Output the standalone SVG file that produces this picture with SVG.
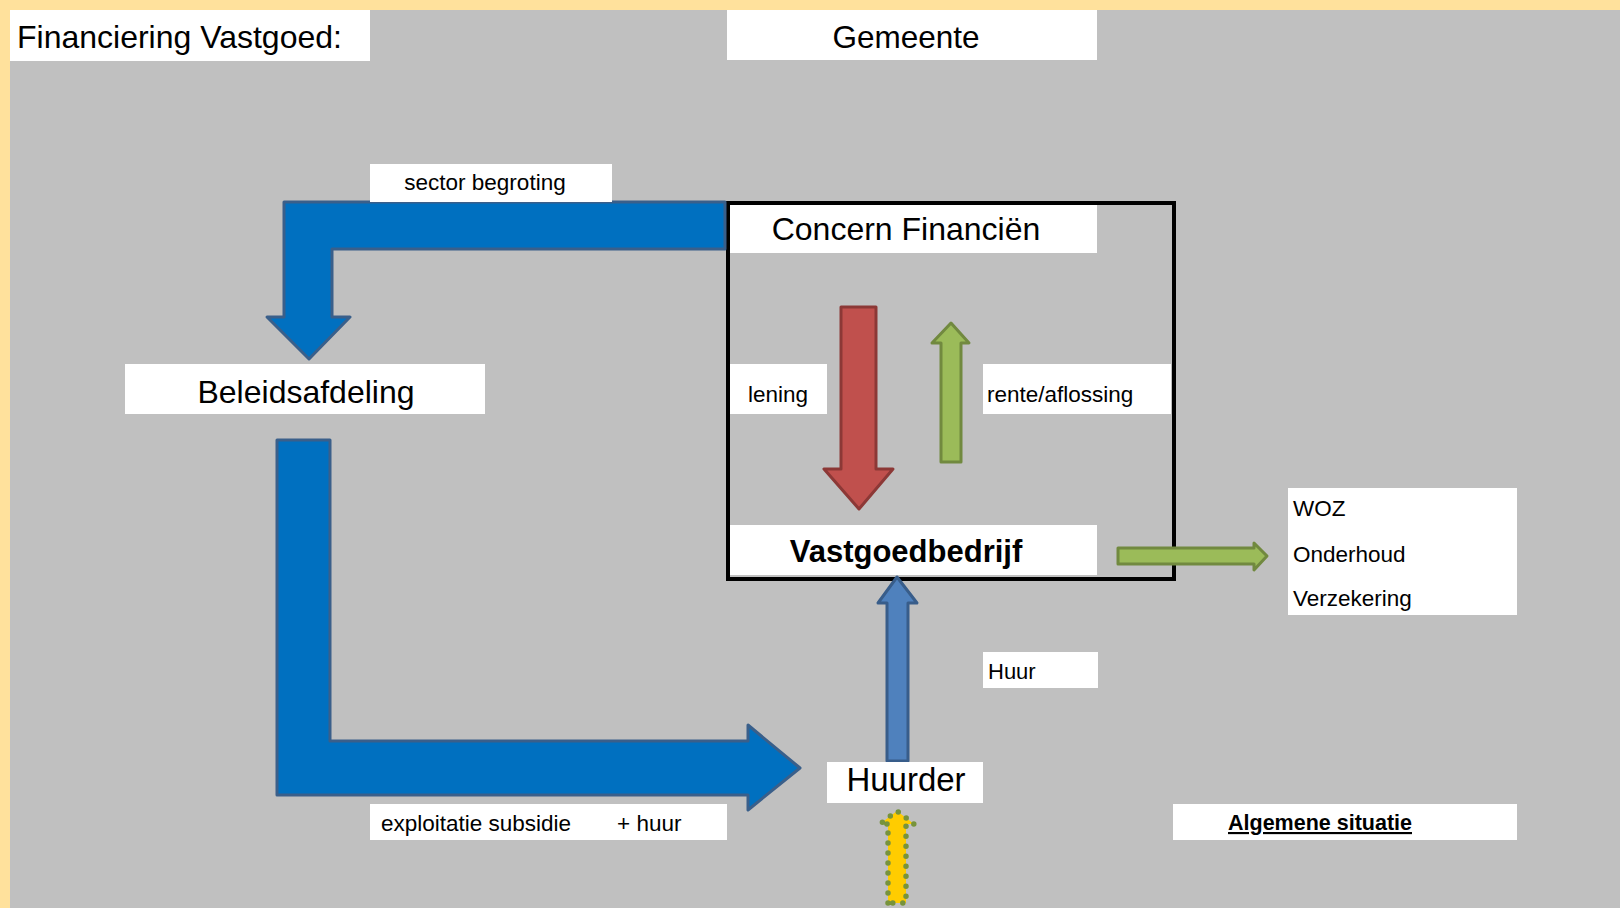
<svg xmlns="http://www.w3.org/2000/svg" width="1620" height="908" viewBox="0 0 1620 908">
<style>
  .lbl { fill: #ffffff; }
  .t { font-family: "Liberation Sans", Arial, sans-serif; fill: #000000; }
  .big { font-size: 32px; }
  .small { font-size: 22.5px; }
  .mid { text-anchor: middle; }
  .blue { fill: #0070C0; stroke: #3A5F8A; stroke-width: 3; stroke-linejoin: round; }
  .red { fill: #C0504D; stroke: #8C3836; stroke-width: 3; stroke-linejoin: round; }
  .green { fill: #9BBB59; stroke: #71893F; stroke-width: 3; stroke-linejoin: round; }
  .lblue { fill: #4F81BD; stroke: #385D8A; stroke-width: 3; stroke-linejoin: round; }
  .yellow { fill: #FFCC00; stroke: #77933C; stroke-width: 5.5; stroke-dasharray: 0 10; stroke-linecap: round; stroke-linejoin: round; }
</style>
<rect x="0" y="0" width="1620" height="908" fill="#FFE19C"/>
<rect x="10" y="10" width="1610" height="898" fill="#C0C0C0"/>

<g id="title">
  <rect class="lbl" x="10" y="10" width="360" height="51"/>
  <text class="t big" x="17" y="48">Financiering Vastgoed:</text>
</g>
<g id="gemeente">
  <rect class="lbl" x="727" y="10" width="370" height="50"/>
  <text class="t mid" x="906" y="48" font-size="31.5">Gemeente</text>
</g>

<g id="gemeente-frame">
  <rect x="728" y="203" width="446" height="376" fill="none" stroke="#000000" stroke-width="4"/>
</g>

<g id="connectors">
  <path id="arrow-sector" class="blue" d="M725,202 H284 V317 H267 L309,359 L350,317 H332 V249 H725 Z"/>
  <path id="arrow-exploitatie" class="blue" d="M277,440 H330 V741 H748 V725 L800,768 L748,810 V795 H277 Z"/>
  <path id="arrow-lening" class="red" d="M841,307 H876 V469 H893 L859,509 L824,469 H841 Z"/>
  <path id="arrow-rente" class="green" d="M941,462 V343 H932 L951,323 L969,343 H961 V462 Z"/>
  <path id="arrow-kosten" class="green" d="M1118,548 H1254 V543 L1267,556 L1254,570 V564 H1118 Z"/>
  <path id="arrow-huur" class="lblue" d="M887,761 V603 H878 L897,577 L917,603 H908 V761 Z"/>
  <path id="arrow-yellow" class="yellow" d="M888,903 V824 H880 L897,811 L914,824 H906 V903 Z"/>
</g>

<g id="sector-begroting">
  <rect class="lbl" x="370" y="164" width="242" height="38"/>
  <text class="t small mid" x="485" y="190">sector begroting</text>
</g>
<g id="concern-financien">
  <rect class="lbl" x="730" y="205" width="367" height="48"/>
  <text class="t big mid" x="906" y="240">Concern Financiën</text>
</g>
<g id="beleidsafdeling">
  <rect class="lbl" x="125" y="364" width="360" height="50"/>
  <text class="t big mid" x="306" y="403">Beleidsafdeling</text>
</g>
<g id="lening">
  <rect class="lbl" x="730" y="364" width="97" height="50"/>
  <text class="t small" x="748" y="402">lening</text>
</g>
<g id="rente-aflossing">
  <rect class="lbl" x="983" y="364" width="188" height="50"/>
  <text class="t small" x="987" y="402">rente/aflossing</text>
</g>
<g id="vastgoedbedrijf">
  <rect class="lbl" x="730" y="525" width="367" height="50"/>
  <text class="t mid" x="906" y="562" font-size="31" font-weight="bold">Vastgoedbedrijf</text>
</g>
<g id="kosten">
  <rect class="lbl" x="1288" y="488" width="229" height="127"/>
  <text class="t small" x="1293" y="516">WOZ</text>
  <text class="t small" x="1293" y="562">Onderhoud</text>
  <text class="t small" x="1293" y="606">Verzekering</text>
</g>
<g id="huur">
  <rect class="lbl" x="983" y="652" width="115" height="36"/>
  <text class="t" x="988" y="679" font-size="22">Huur</text>
</g>
<g id="huurder">
  <rect class="lbl" x="827" y="762" width="156" height="41"/>
  <text class="t mid" x="906" y="791" font-size="33">Huurder</text>
</g>
<g id="exploitatie-subsidie">
  <rect class="lbl" x="370" y="804" width="357" height="36"/>
  <text class="t small" y="831"><tspan x="381">exploitatie subsidie</tspan><tspan x="617">+ huur</tspan></text>
</g>
<g id="algemene-situatie">
  <rect class="lbl" x="1173" y="804" width="344" height="36"/>
  <text class="t" x="1228" y="830" font-size="21.5" font-weight="bold" text-decoration="underline">Algemene situatie</text>
</g>
</svg>
